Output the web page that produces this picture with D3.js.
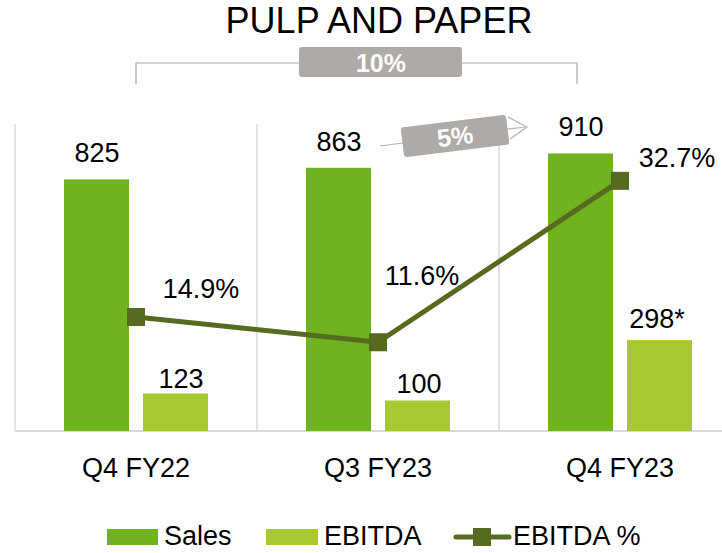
<!DOCTYPE html>
<html>
<head>
<meta charset="utf-8">
<script src="https://cdn.jsdelivr.net/npm/d3@7"></script>
<style>
  body { margin: 0; background: #fff; }
  text { font-family: "Liberation Sans", Arial, sans-serif; }
</style>
</head>
<body>
<div id="chart"></div>
<script>
const width = 722;
const height = 553;

const categories = ["Q4 FY22", "Q3 FY23", "Q4 FY23"];
const sales = [825, 863, 910];
const ebitda = [123, 100, 298];
const ebitdaLabels = ["123", "100", "298*"];
const ebitdaPct = [14.9, 11.6, 32.7];

const salesColor = "#70b21f";
const ebitdaColor = "#a8c830";
const lineColor = "#566b1f";
const gridColor = "#d9d9d9";
const boxColor = "#aeaaa8";
const fontSize = 27;

const svg = d3.select("#chart").append("svg")
    .attr("width", width)
    .attr("height", height);

const x = d3.scaleBand().domain(categories).range([15, 741]);
const y = d3.scaleLinear().domain([0, 1000]).range([431, 126]);
const yPct = d3.scaleLinear().domain([0, 40]).range([431, 125]);

// frame and category dividers
svg.append("g")
    .selectAll("line")
    .data(categories)
    .join("line")
    .attr("x1", (d) => x(d))
    .attr("x2", (d) => x(d))
    .attr("y1", 124)
    .attr("y2", 431)
    .attr("stroke", gridColor)
    .attr("stroke-width", 1.5);

svg.append("line")
    .attr("x1", 15).attr("x2", 722)
    .attr("y1", 431).attr("y2", 431)
    .attr("stroke", gridColor)
    .attr("stroke-width", 2);

const barW = 65;
const cx = (d) => x(d) + x.bandwidth() / 2;

svg.append("g")
    .selectAll("rect")
    .data(categories)
    .join("rect")
    .attr("x", (d) => cx(d) - 72)
    .attr("y", (d, i) => y(sales[i]))
    .attr("width", barW)
    .attr("height", (d, i) => y(0) - y(sales[i]))
    .attr("fill", salesColor);

svg.append("g")
    .selectAll("rect")
    .data(categories)
    .join("rect")
    .attr("x", (d) => cx(d) + 7)
    .attr("y", (d, i) => y(ebitda[i]))
    .attr("width", barW)
    .attr("height", (d, i) => y(0) - y(ebitda[i]))
    .attr("fill", ebitdaColor);

// value labels
svg.append("g")
    .selectAll("text")
    .data(categories)
    .join("text")
    .attr("x", (d) => cx(d) - 39)
    .attr("y", (d, i) => y(sales[i]) - 17)
    .attr("text-anchor", "middle")
    .attr("font-size", fontSize)
    .text((d, i) => sales[i]);

const ebitdaOffsets = [[45, -5], [41, -8], [37, -12]];
svg.append("g")
    .selectAll("text")
    .data(categories)
    .join("text")
    .attr("x", (d, i) => cx(d) + ebitdaOffsets[i][0])
    .attr("y", (d, i) => y(ebitda[i]) + ebitdaOffsets[i][1])
    .attr("text-anchor", "middle")
    .attr("font-size", fontSize)
    .text((d, i) => ebitdaLabels[i]);

// EBITDA % line
const line = d3.line()
    .x((d, i) => cx(categories[i]))
    .y((d) => yPct(d));

svg.append("path")
    .datum(ebitdaPct)
    .attr("d", line)
    .attr("fill", "none")
    .attr("stroke", lineColor)
    .attr("stroke-width", 5);

svg.append("g")
    .selectAll("rect")
    .data(ebitdaPct)
    .join("rect")
    .attr("x", (d, i) => cx(categories[i]) - 9)
    .attr("y", (d) => yPct(d) - 9)
    .attr("width", 18)
    .attr("height", 18)
    .attr("fill", lineColor);

const pctOffsets = [[65, -19], [44, -57], [57, -14]];
svg.append("g")
    .selectAll("text")
    .data(ebitdaPct)
    .join("text")
    .attr("x", (d, i) => cx(categories[i]) + pctOffsets[i][0])
    .attr("y", (d, i) => yPct(d) + pctOffsets[i][1])
    .attr("text-anchor", "middle")
    .attr("font-size", fontSize)
    .text((d) => d.toFixed(1) + "%");

// category labels
svg.append("g")
    .selectAll("text")
    .data(categories)
    .join("text")
    .attr("x", (d) => cx(d))
    .attr("y", 477)
    .attr("text-anchor", "middle")
    .attr("font-size", fontSize)
    .text((d) => d);

// title
svg.append("text")
    .attr("x", 379)
    .attr("y", 33)
    .attr("text-anchor", "middle")
    .attr("font-size", 36)
    .text("PULP AND PAPER");

// 10% bracket
const bx1 = cx(categories[0]);
const bx2 = 577;
svg.append("path")
    .attr("d", `M${bx1},84 V63 H${bx2} V84`)
    .attr("fill", "none")
    .attr("stroke", "#a6a6a6")
    .attr("stroke-width", 1.2);
svg.append("rect")
    .attr("x", 299).attr("y", 47)
    .attr("width", 163).attr("height", 30)
    .attr("rx", 3)
    .attr("fill", boxColor);
svg.append("text")
    .attr("x", 381).attr("y", 72)
    .attr("text-anchor", "middle")
    .attr("font-size", 25)
    .attr("font-weight", "bold")
    .attr("fill", "#fff")
    .text("10%");

// 5% arrow
svg.append("line")
    .attr("x1", 380).attr("y1", 146)
    .attr("x2", 525).attr("y2", 127)
    .attr("stroke", "#b3b3b3")
    .attr("stroke-width", 1.2);
svg.append("path")
    .attr("d", "M508,117 L527,127 L510,139")
    .attr("fill", "none")
    .attr("stroke", "#b3b3b3")
    .attr("stroke-width", 1.2);
const arrowG = svg.append("g").attr("transform", "translate(455,136) rotate(-7)");
arrowG.append("rect")
    .attr("x", -53).attr("y", -15)
    .attr("width", 106).attr("height", 30)
    .attr("rx", 3)
    .attr("fill", boxColor);
arrowG.append("text")
    .attr("x", 0).attr("y", 9)
    .attr("text-anchor", "middle")
    .attr("font-size", 25)
    .attr("font-weight", "bold")
    .attr("fill", "#fff")
    .text("5%");

// legend
const legend = svg.append("g").attr("font-size", fontSize);
legend.append("rect").attr("x", 107).attr("y", 529).attr("width", 51).attr("height", 16).attr("fill", salesColor);
legend.append("text").attr("x", 164).attr("y", 545).text("Sales");
legend.append("rect").attr("x", 266).attr("y", 529).attr("width", 52).attr("height", 16).attr("fill", ebitdaColor);
legend.append("text").attr("x", 324).attr("y", 545).text("EBITDA");
legend.append("line").attr("x1", 456).attr("x2", 509).attr("y1", 537).attr("y2", 537)
    .attr("stroke", lineColor).attr("stroke-width", 5).attr("stroke-linecap", "round");
legend.append("rect").attr("x", 473).attr("y", 528).attr("width", 18).attr("height", 18).attr("fill", lineColor);
legend.append("text").attr("x", 513).attr("y", 545).text("EBITDA %");
</script>
</body>
</html>
